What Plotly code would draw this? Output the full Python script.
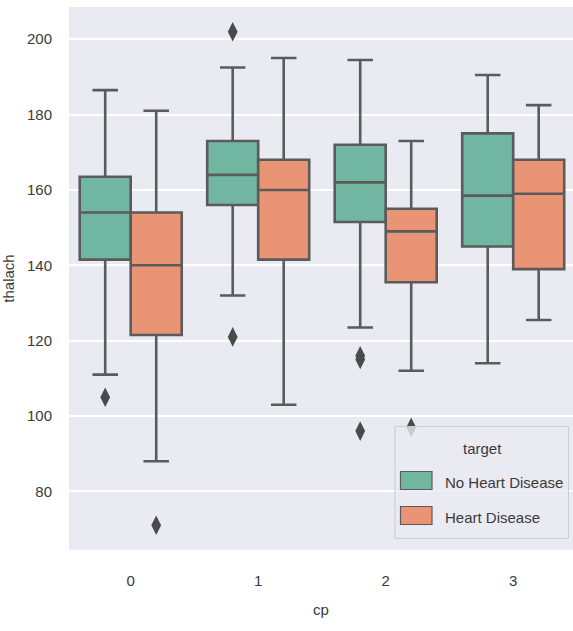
import plotly.graph_objects as go

# chest-pain type categories on the x axis
cp_levels = [0, 1, 2, 3]
cp_labels = ["0", "1", "2", "3"]

# box statistics of maximum heart rate (thalach) per cp, split by target
no_hd_q1 = [141.5, 156, 151.5, 145]
no_hd_median = [154, 164, 162, 158.5]
no_hd_q3 = [163.5, 173, 172, 175]
no_hd_low = [111, 132, 123.5, 114]
no_hd_high = [186.5, 192.5, 194.5, 190.5]
no_hd_out_cp = [0, 1, 1, 2, 2, 2]
no_hd_out_val = [105, 202, 121, 115, 116, 96]

hd_q1 = [121.5, 141.5, 135.5, 139]
hd_median = [140, 160, 149, 159]
hd_q3 = [154, 168, 155, 168]
hd_low = [88, 103, 112, 125.5]
hd_high = [181, 195, 173, 182.5]
hd_out_cp = [0, 2]
hd_out_val = [71, 97]

series_names = ["No Heart Disease", "Heart Disease"]
series_colors = ["#71B6A1", "#E99575"]
legend_title = "target"

LINE = "#5b5b5b"
FONT = "Liberation Sans, Arial, sans-serif"
TEXT = "#3a3a3a"
FS = 15

hue_offsets = [-0.2, 0.2]
box_width = 0.4

groups = [
    (no_hd_q1, no_hd_median, no_hd_q3, no_hd_low, no_hd_high, no_hd_out_cp, no_hd_out_val),
    (hd_q1, hd_median, hd_q3, hd_low, hd_high, hd_out_cp, hd_out_val),
]

fig = go.Figure()
for i, (q1, med, q3, lo, hi, ocp, oval) in enumerate(groups):
    xs = [c + hue_offsets[i] for c in cp_levels]
    fig.add_trace(go.Box(
        x=xs, q1=q1, median=med, q3=q3, lowerfence=lo, upperfence=hi,
        width=box_width, whiskerwidth=0.5,
        fillcolor=series_colors[i],
        line=dict(color=LINE, width=2.6),
        name=series_names[i], showlegend=False, hoverinfo="skip",
    ))
    fig.add_trace(go.Scatter(
        x=[c + hue_offsets[i] for c in ocp], y=oval, mode="markers",
        marker=dict(symbol="diamond-tall", size=14, color="#4a4a4a",
                    line=dict(width=0)),
        showlegend=False, hoverinfo="skip",
    ))

# plot-area geometry in pixels (used for the hand-built legend)
W, H = 573, 631
ML, MR, MT, MB = 69, 0, 7, 81
pw, ph = W - ML - MR, H - MT - MB


def px_x(p):
    return (p - ML) / pw


def px_y(p):
    return (H - MB - p) / ph


shapes = [dict(
    type="rect", xref="paper", yref="paper", layer="above",
    x0=px_x(395), x1=px_x(568.5), y0=px_y(538.5), y1=px_y(426.5),
    fillcolor="rgba(234,234,242,0.8)", line=dict(color="#cccccc", width=1),
)]
annotations = [dict(
    text=legend_title, xref="paper", yref="paper", x=px_x(482), y=px_y(448.5),
    showarrow=False, xanchor="center", yanchor="middle",
    font=dict(family=FONT, size=FS, color=TEXT),
)]
row_y = [480.5, 515.5]
for i, name in enumerate(series_names):
    shapes.append(dict(
        type="rect", xref="paper", yref="paper", layer="above",
        x0=px_x(400.5), x1=px_x(432), y0=px_y(row_y[i] + 9), y1=px_y(row_y[i] - 9),
        fillcolor=series_colors[i], line=dict(color=LINE, width=1.2),
    ))
    annotations.append(dict(
        text=name, xref="paper", yref="paper", x=px_x(443), y=px_y(row_y[i] + 2),
        showarrow=False, xanchor="left", yanchor="middle",
        font=dict(family=FONT, size=FS, color=TEXT),
    ))

fig.update_layout(
    width=W, height=H,
    margin=dict(l=ML, r=MR, t=MT, b=MB, pad=0),
    paper_bgcolor="white", plot_bgcolor="#EAEAF2",
    font=dict(family=FONT, size=FS, color=TEXT),
    boxmode="overlay",
    shapes=shapes, annotations=annotations,
    xaxis=dict(
        range=[-0.484, 3.469], tickmode="array", tickvals=cp_levels, ticktext=cp_labels,
        showgrid=False, zeroline=False, showline=False,
        ticks="outside", ticklen=17, tickcolor="rgba(0,0,0,0)",
        title=dict(text="cp", standoff=16, font=dict(size=FS)),
        tickfont=dict(size=FS),
    ),
    yaxis=dict(
        range=[64.45, 208.55], tickvals=[80, 100, 120, 140, 160, 180, 200],
        showgrid=True, gridcolor="white", gridwidth=1.6, zeroline=False, showline=False,
        ticks="outside", ticklen=13, tickcolor="rgba(0,0,0,0)",
        title=dict(text="thalach", standoff=9, font=dict(size=FS)),
        tickfont=dict(size=FS),
    ),
)

fig.write_html("out.html")
